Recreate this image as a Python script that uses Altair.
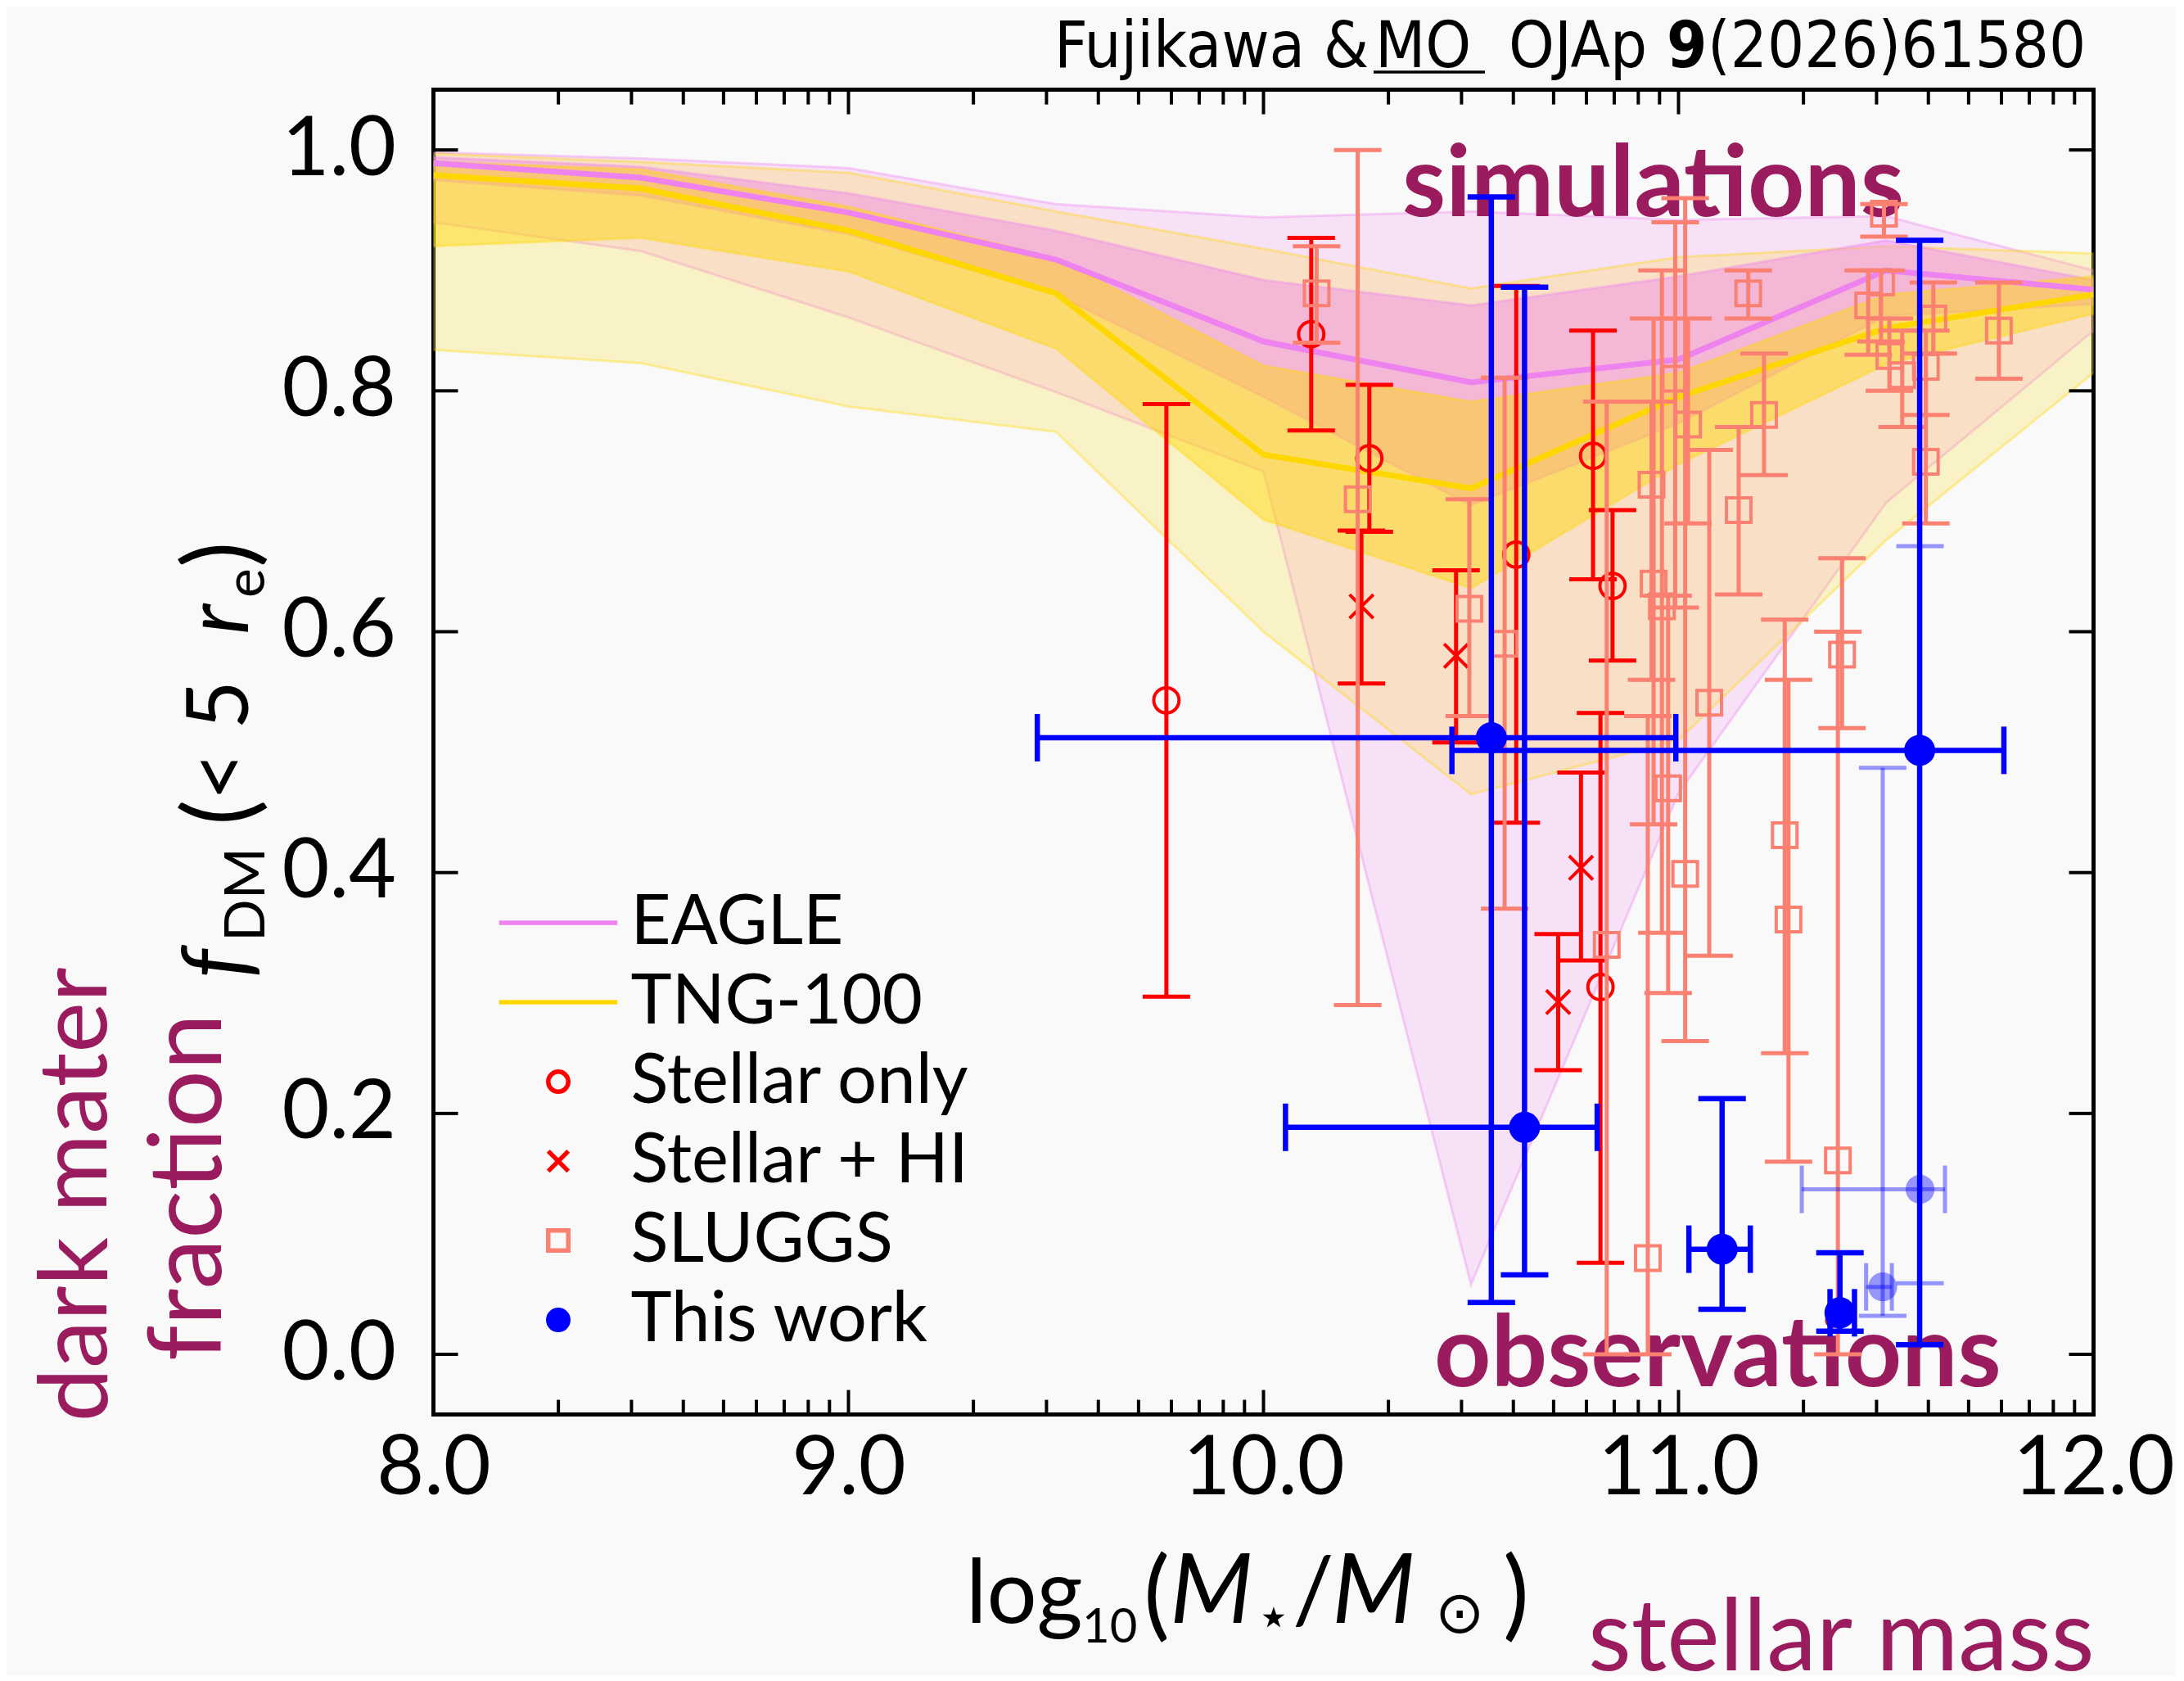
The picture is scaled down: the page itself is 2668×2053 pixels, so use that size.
import math
import altair as alt
import pandas as pd

# ---------------- data ----------------
x_knots = [8.0, 8.5, 9.0, 9.5, 10.0, 10.5, 11.0, 11.5, 12.0]

eagle_med = [0.989, 0.977, 0.948, 0.909, 0.841, 0.807, 0.826, 0.900, 0.884]
eagle_in_lo = [0.975, 0.962, 0.930, 0.880, 0.795, 0.705, 0.773, 0.862, 0.872]
eagle_in_hi = [0.994, 0.986, 0.964, 0.933, 0.892, 0.871, 0.895, 0.925, 0.892]
eagle_out_lo = [0.940, 0.916, 0.861, 0.799, 0.733, 0.058, 0.466, 0.707, 0.850]
eagle_out_hi = [0.998, 0.993, 0.985, 0.955, 0.944, 0.949, 0.942, 0.945, 0.900]

tng_med = [0.979, 0.968, 0.933, 0.881, 0.747, 0.719, 0.795, 0.852, 0.880]
tng_in_lo = [0.920, 0.927, 0.899, 0.835, 0.693, 0.636, 0.739, 0.822, 0.864]
tng_in_hi = [0.990, 0.984, 0.953, 0.910, 0.821, 0.791, 0.815, 0.880, 0.895]
tng_out_lo = [0.834, 0.823, 0.787, 0.766, 0.600, 0.465, 0.510, 0.676, 0.815]
tng_out_hi = [0.997, 0.990, 0.981, 0.949, 0.918, 0.885, 0.911, 0.920, 0.914]

# Stellar only (red open circles)
so_x = [9.766, 10.115, 10.255, 10.609, 10.794, 10.841, 10.812]
so_y = [0.543, 0.847, 0.744, 0.664, 0.746, 0.638, 0.305]
so_lo = [0.297, 0.767, 0.683, 0.4415, 0.6435, 0.576, 0.076]
so_hi = [0.789, 0.927, 0.805, 0.887, 0.850, 0.701, 0.5325]

# Stellar + HI (red crosses)
hi_x = [10.236, 10.464, 10.765, 10.710]
hi_y = [0.621, 0.580, 0.404, 0.2925]
hi_lo = [0.557, 0.508, 0.327, 0.236]
hi_hi = [0.684, 0.651, 0.483, 0.349]

# SLUGGS (salmon open squares)
sl_x = [10.128, 10.227, 10.496, 10.581, 10.827, 10.926, 10.935, 10.940, 10.960,
        10.975, 10.992, 11.016, 11.023, 11.074, 11.145, 11.168, 11.206, 11.256,
        11.265, 11.384, 11.394, 11.457, 11.488, 11.495, 11.508, 11.539, 11.596,
        11.596, 11.614, 11.772]
sl_y = [0.881, 0.710, 0.619, 0.590, 0.340, 0.080, 0.722, 0.640, 0.621,
        0.470, 0.810, 0.399, 0.772, 0.541, 0.701, 0.881, 0.780, 0.431,
        0.361, 0.161, 0.581, 0.871, 0.890, 0.947, 0.829, 0.813, 0.820,
        0.741, 0.860, 0.850]
sl_lo = [0.840, 0.290, 0.530, 0.370, 0.000, 0.000, 0.560, 0.440, 0.350,
         0.300, 0.620, 0.260, 0.690, 0.331, 0.631, 0.860, 0.730, 0.250,
         0.160, 0.000, 0.520, 0.830, 0.841, 0.928, 0.800, 0.770, 0.780,
         0.690, 0.831, 0.810]
sl_hi = [0.920, 1.000, 0.710, 0.811, 0.791, 0.530, 0.791, 0.860, 0.900,
         0.630, 0.940, 0.960, 0.860, 0.751, 0.770, 0.900, 0.831, 0.610,
         0.560, 0.600, 0.661, 0.900, 0.900, 0.955, 0.860, 0.850, 0.850,
         0.831, 0.890, 0.890]

# This work (blue filled circles, x and y errors)
bw_x = [10.549, 11.581, 10.629, 11.105, 11.389]
bw_y = [0.512, 0.5015, 0.1885, 0.0873, 0.0345]
bw_ylo = [0.043, 0.008, 0.066, 0.0375, 0.0192]
bw_yhi = [0.961, 0.925, 0.886, 0.2124, 0.0844]
bw_xlo = [9.455, 10.454, 10.053, 11.025, 11.365]
bw_xhi = [10.9935, 11.784, 10.804, 11.173, 11.424]

# This work, faded points
bf_x = [11.582, 11.492]
bf_y = [0.137, 0.056]
bf_ylo = [0.059, 0.032]
bf_yhi = [0.671, 0.487]
bf_xlo = [11.297, 11.452]
bf_xhi = [11.642, 11.514]

x_major = [8, 9, 10, 11, 12]
y_major = [0.0, 0.2, 0.4, 0.6, 0.8, 1.0]
legend_labels = ["EAGLE", "TNG-100", "Stellar only", "Stellar + HI", "SLUGGS", "This work"]

# ---------------- layout / style ----------------
PADL, PADT = 521.5, 101.6
W, H = 2028, 1618
OX, OY = 8 + PADL, 8 + PADT


def px(v):
    return v - OX


def py(v):
    return v - OY


FONT = "Lato"
PURPLE = "#9b1b5f"
BG = "#f9f9f9"
CAP = 58

xs = alt.Scale(domain=[8, 12], nice=False, zero=False)
ys = alt.Scale(domain=[-0.05, 1.05], nice=False, zero=False)

X_AXIS = alt.Axis(values=x_major, format=".1f", title=None, ticks=False, domain=False,
                  grid=False, labelFont=FONT, labelFontSize=100, labelPadding=18,
                  labelColor="black", labelFlush=False, labelLimit=500)
Y_AXIS = alt.Axis(values=y_major, format=".1f", title=None, ticks=False, domain=False,
                  grid=False, labelFont=FONT, labelFontSize=100, labelPadding=46,
                  labelColor="black", labelFlush=False, labelLimit=500)


def X(field):
    return alt.X(field, type="quantitative", scale=xs, axis=X_AXIS)


def Y(field):
    return alt.Y(field, type="quantitative", scale=ys, axis=Y_AXIS)


LEG = alt.Legend(title=None, orient="none", legendX=110, legendY=975,
                 labelFont=FONT, labelFontSize=85, labelColor="black",
                 symbolSize=600, symbolStrokeWidth=5.5, rowPadding=11,
                 labelOffset=46, padding=0, labelLimit=800)

stroke_scale = alt.Scale(domain=legend_labels,
                         range=["violet", "gold", "red", "red", "salmon", "blue"])
fill_scale = alt.Scale(domain=legend_labels,
                       range=["transparent", "transparent", "transparent",
                              "transparent", "transparent", "blue"])
shape_scale = alt.Scale(domain=legend_labels,
                        range=["M-5.9,0L5.9,0", "M-5.9,0L5.9,0", "circle",
                               "M-1,-1L1,1M-1,1L1,-1", "square", "circle"])


def legend_encodings():
    return dict(
        stroke=alt.Stroke("label:N", scale=stroke_scale, legend=LEG),
        fill=alt.Fill("label:N", scale=fill_scale, legend=LEG),
        shape=alt.Shape("label:N", scale=shape_scale, legend=LEG),
    )


layers = []


# ---------------- simulation bands ----------------
def band(lo, hi, color, op):
    df = pd.DataFrame({"x": x_knots, "lo": lo, "hi": hi})
    return alt.Chart(df).mark_area(fill=color, fillOpacity=op, stroke=color,
                                   strokeOpacity=0.35, strokeWidth=3, clip=True).encode(
        x=X("x"), y=Y("lo"), y2="hi")


layers.append(band(eagle_out_lo, eagle_out_hi, "violet", 0.2))
layers.append(band(tng_out_lo, tng_out_hi, "gold", 0.2))
layers.append(band(eagle_in_lo, eagle_in_hi, "violet", 0.42))
layers.append(band(tng_in_lo, tng_in_hi, "gold", 0.45))

med_df = pd.concat([
    pd.DataFrame({"x": x_knots, "y": eagle_med, "label": "EAGLE"}),
    pd.DataFrame({"x": x_knots, "y": tng_med, "label": "TNG-100"}),
])
layers.append(alt.Chart(med_df).mark_line(strokeWidth=7, clip=True).encode(
    x=X("x"), y=Y("y"),
    stroke=alt.Stroke("label:N", scale=stroke_scale, legend=LEG)))


# ---------------- helper for positioned text ----------------
def texts(rows, **kw):
    df = pd.DataFrame(rows, columns=["t", "px", "py", "fs"])
    return alt.Chart(df).mark_text(**kw).encode(
        x=alt.X("px:Q", scale=None), y=alt.Y("py:Q", scale=None),
        text="t:N", size=alt.Size("fs:Q", scale=None, legend=None))


# in-plot words
layers.append(texts([
    ["simulations", px(1713), py(264), 121],
    ["observations", px(1752), py(1693), 121],
], font=FONT, fontWeight="bold", color=PURPLE, align="left", baseline="alphabetic"))


# ---------------- error bars ----------------
def vbars(x, lo, hi, color, sw=5, op=1.0):
    df = pd.DataFrame({"x": x, "lo": lo, "hi": hi})
    base = alt.Chart(df)
    rule = base.mark_rule(color=color, strokeWidth=sw, opacity=op).encode(
        x=X("x"), y=Y("lo"), y2="hi")
    c1 = base.mark_point(shape="stroke", size=CAP * CAP, color=color, strokeWidth=sw,
                         opacity=op, filled=False).encode(x=X("x"), y=Y("lo"))
    c2 = base.mark_point(shape="stroke", size=CAP * CAP, color=color, strokeWidth=sw,
                         opacity=op, filled=False).encode(x=X("x"), y=Y("hi"))
    return [rule, c1, c2]


def hbars(y, lo, hi, color, sw=5, op=1.0):
    df = pd.DataFrame({"y": y, "lo": lo, "hi": hi})
    base = alt.Chart(df)
    rule = base.mark_rule(color=color, strokeWidth=sw, opacity=op).encode(
        y=Y("y"), x=X("lo"), x2="hi")
    c1 = base.mark_point(shape="M0,-1L0,1", size=CAP * CAP, color=color, strokeWidth=sw,
                         opacity=op, filled=False).encode(y=Y("y"), x=X("lo"))
    c2 = base.mark_point(shape="M0,-1L0,1", size=CAP * CAP, color=color, strokeWidth=sw,
                         opacity=op, filled=False).encode(y=Y("y"), x=X("hi"))
    return [rule, c1, c2]


def markers(x, y, label, size, sw=4.0):
    df = pd.DataFrame({"x": x, "y": y, "label": label})
    return alt.Chart(df).mark_point(strokeWidth=sw, opacity=1, size=size).encode(
        x=X("x"), y=Y("y"), **legend_encodings())


layers += vbars(so_x, so_lo, so_hi, "red")
layers.append(markers(so_x, so_y, "Stellar only", 950))
layers += vbars(hi_x, hi_lo, hi_hi, "red")
layers.append(markers(hi_x, hi_y, "Stellar + HI", 850))
layers += vbars(sl_x, sl_lo, sl_hi, "salmon")
layers.append(markers(sl_x, sl_y, "SLUGGS", 900))

# faded points of this work
layers += vbars(bf_x, bf_ylo, bf_yhi, "blue", sw=5, op=0.4)
layers += hbars(bf_y, bf_xlo, bf_xhi, "blue", sw=5, op=0.4)
bf_df = pd.DataFrame({"x": bf_x, "y": bf_y})
layers.append(alt.Chart(bf_df).mark_point(filled=True, size=1250, color="blue",
                                          opacity=0.4).encode(x=X("x"), y=Y("y")))

layers += vbars(bw_x, bw_ylo, bw_yhi, "blue", sw=6.5)
layers += hbars(bw_y, bw_xlo, bw_xhi, "blue", sw=6.5)
layers.append(markers(bw_x, bw_y, "This work", 1150))

# ---------------- inward ticks ----------------
x_minor = [d + math.log10(k) for d in range(8, 12) for k in range(2, 10)]
xt = pd.DataFrame({"v": x_major})
xm = pd.DataFrame({"v": x_minor})
yt = pd.DataFrame({"v": y_major})
TW = 4
layers.append(alt.Chart(xt).mark_rule(color="black", strokeWidth=TW).encode(
    x=X("v"), y=alt.value(H), y2=alt.value(H - 30)))
layers.append(alt.Chart(xt).mark_rule(color="black", strokeWidth=TW).encode(
    x=X("v"), y=alt.value(0), y2=alt.value(30)))
layers.append(alt.Chart(xm).mark_rule(color="black", strokeWidth=TW).encode(
    x=X("v"), y=alt.value(H), y2=alt.value(H - 18)))
layers.append(alt.Chart(xm).mark_rule(color="black", strokeWidth=TW).encode(
    x=X("v"), y=alt.value(0), y2=alt.value(18)))
layers.append(alt.Chart(yt).mark_rule(color="black", strokeWidth=TW).encode(
    y=Y("v"), x=alt.value(0), x2=alt.value(30)))
layers.append(alt.Chart(yt).mark_rule(color="black", strokeWidth=TW).encode(
    y=Y("v"), x=alt.value(W), x2=alt.value(W - 30)))

# ---------------- axis titles / annotations ----------------
# x-axis title: log10(M*/Msun)
BX = 1982
layers.append(texts([
    ["log", px(1180), py(BX), 108],
    ["10", px(1322), py(BX + 24), 58],
    ["(", px(1397), py(BX + 6), 120],
    ["/", px(1579), py(BX), 112],
    [")", px(1836), py(BX + 6), 120],
], font=FONT, color="black", align="left", baseline="alphabetic"))
layers.append(texts([
    ["M", px(1429), py(BX), 118],
    ["M", px(1627), py(BX), 118],
], font=FONT, fontStyle="italic", color="black", align="left", baseline="alphabetic"))
layers.append(texts([
    ["\u22c6", px(1534), py(BX + 16), 70],
    ["\u2299", px(1753), py(BX + 12), 72],
], font="DejaVu Sans", color="black", align="left", baseline="alphabetic"))

# y-axis title: f_DM(< 5 r_e), rotated
YB = 303  # baseline x in reference pixels
layers.append(texts([
    ["(", px(YB + 6), py(1008), 118],
    ["< 5", px(YB), py(978), 104],
    [")", px(YB + 6), py(693), 118],
], font=FONT, color="black", align="left", baseline="alphabetic", angle=270))
layers.append(texts([
    ["f", px(YB), py(1195), 112],
    ["r", px(YB), py(775), 108],
], font=FONT, fontStyle="italic", color="black", align="left", baseline="alphabetic",
    angle=270))
layers.append(texts([
    ["DM", px(YB + 20), py(1150), 68],
    ["e", px(YB + 20), py(730), 68],
], font=FONT, color="black", align="left", baseline="alphabetic", angle=270))

# purple side labels
layers.append(texts([
    ["dark mater", px(130), py(1459), 117],
    ["fraction", px(270), py(1450), 124],
], font=FONT, color=PURPLE, align="center", baseline="alphabetic", angle=270))
layers.append(texts([
    ["stellar mass", px(1940), py(2040), 122],
], font=FONT, color=PURPLE, align="left", baseline="alphabetic"))

# header
TF = "DejaVu Sans Condensed, Liberation Sans Narrow, Lato"
layers.append(texts([
    ["Fujikawa &", px(1288), py(81.7), 79],
    ["MO", px(1680), py(81.7), 79],
    ["OJAp", px(1843), py(81.7), 79],
    ["(2026)61580", px(2086), py(81.7), 79],
], font=TF, color="black", align="left", baseline="alphabetic"))
layers.append(texts([
    ["9", px(2036), py(81.7), 79],
], font=TF, fontWeight="bold", color="black", align="left", baseline="alphabetic"))
layers.append(alt.Chart(pd.DataFrame({"a": [0]})).mark_rule(
    color="black", strokeWidth=3.5).encode(
    x=alt.value(px(1678)), x2=alt.value(px(1814)), y=alt.value(py(88))))

chart = alt.layer(*layers).properties(
    width=W, height=H,
    autosize=alt.AutoSizeParams(type="none"),
    padding={"left": PADL, "top": PADT, "right": 100, "bottom": 318},
    background=BG,
).configure_view(stroke="black", strokeWidth=5, fill=BG).configure_legend(
    symbolOpacity=1)

chart.save("out.html", embed_options={"renderer": "svg", "actions": False})
